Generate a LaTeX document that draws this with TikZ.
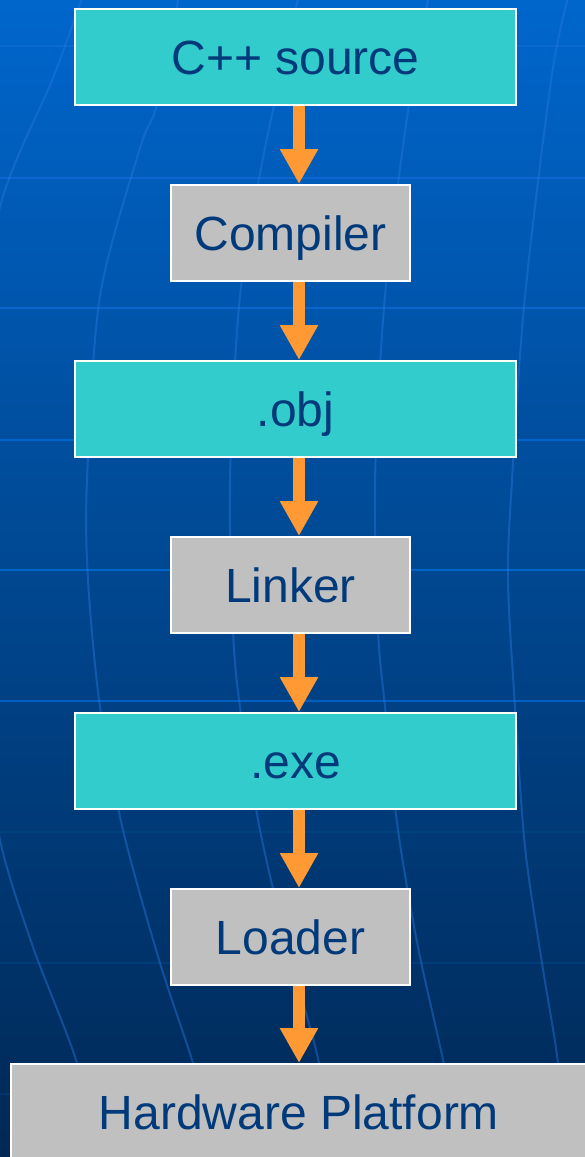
\documentclass[tikz,border=0pt]{standalone}
\usepackage{fontspec}
\setmainfont{Liberation Sans}
\usetikzlibrary{arrows.meta}

\definecolor{bgtop}{HTML}{0066CC}
\definecolor{bgmid}{HTML}{004C9C}
\definecolor{bgbottom}{HTML}{002855}
\definecolor{gridblue}{HTML}{2A7AE0}
\definecolor{cyanfill}{HTML}{33CCCC}
\definecolor{grayfill}{HTML}{C0C0C0}
\definecolor{labelblue}{HTML}{003A7A}
\definecolor{arroworange}{HTML}{FF9933}

\begin{document}
\begin{tikzpicture}[x=1pt, y=-1pt,
  box/.style={draw=white, line width=2pt, minimum height=96pt, inner sep=0pt,
    text=labelblue, text height=34pt, text depth=0pt,
    font=\fontsize{48}{57}\selectfont},
  filebox/.style={box, fill=cyanfill, minimum width=441pt},
  toolbox/.style={box, fill=grayfill, minimum width=239pt},
  platform/.style={box, fill=grayfill, minimum width=576pt},
  flow/.style={draw=arroworange, line width=12pt,
    -{Triangle[width=36pt, length=35pt]}},
  meridian/.style={draw=gridblue, line width=2pt},
  parallel/.style={line width=2.5pt}]

\useasboundingbox (0,0) rectangle (585,1157);

% background gradient
\shade[top color=bgtop, middle color=bgmid, bottom color=bgbottom]
  (0,0) rectangle (585,1157);

% globe grid behind the chart
\begin{scope}
  \clip (0,0) rectangle (585,1157);
  \foreach \y/\c in {46/0A6AD2, 178/0A68D0, 308/0866CE, 440/0066CC,
                     570/0066CC, 701/005EC0, 832/00427F, 963/003C78, 1094/00346C}{
    \definecolor{hline}{HTML}{\c}
    \draw[parallel, draw=hline] (0,\y) -- (585,\y);
  }
  \begin{scope}[opacity=0.42]
  \draw[meridian] plot[smooth] coordinates {(85,-10) (53,78) (0,207) (-30,400)
    (-35,550) (-20,700) (0,840) (33,947) (77,1063) (100,1165)};
  \draw[meridian] plot[smooth] coordinates {(180,-10) (157,104) (140,148) (100,296)
    (87,480) (88,580) (100,707) (123,830) (160,963) (193,1063) (222,1165)};
  \draw[meridian] plot[smooth] coordinates {(300,-10) (265,148) (240,296) (230,480)
    (233,630) (240,707) (260,830) (288,950) (316,1050) (340,1165)};
  \draw[meridian] plot[smooth] coordinates {(430,-10) (408,111) (385,296) (375,480)
    (378,630) (385,707) (398,830) (418,947) (442,1055) (465,1165)};
  \draw[meridian] plot[smooth] coordinates {(570,-10) (552,74) (525,296) (512,480)
    (508,580) (515,707) (525,847) (542,963) (557,1055) (570,1165)};
  \end{scope}
\end{scope}

% chart column
\coordinate (axis) at (299,0);

\node[filebox]  (src)  at (295.5,57)  {C++ source};
\node[toolbox]  (cc)   at (290.5,233) {Compiler};
\node[filebox]  (obj)  at (295.5,409) {.obj};
\node[toolbox]  (ld)   at (290.5,585) {Linker};
\node[filebox]  (exe)  at (295.5,761) {.exe};
\node[toolbox]  (load) at (290.5,937) {Loader};
\node[platform] (hw)   at (299,1112)  {Hardware Platform};

\draw[flow] (src.south -| axis)  -- (cc.north -| axis);
\draw[flow] (cc.south -| axis)   -- (obj.north -| axis);
\draw[flow] (obj.south -| axis)  -- (ld.north -| axis);
\draw[flow] (ld.south -| axis)   -- (exe.north -| axis);
\draw[flow] (exe.south -| axis)  -- (load.north -| axis);
\draw[flow] (load.south -| axis) -- (hw.north -| axis);
\end{tikzpicture}
\end{document}
